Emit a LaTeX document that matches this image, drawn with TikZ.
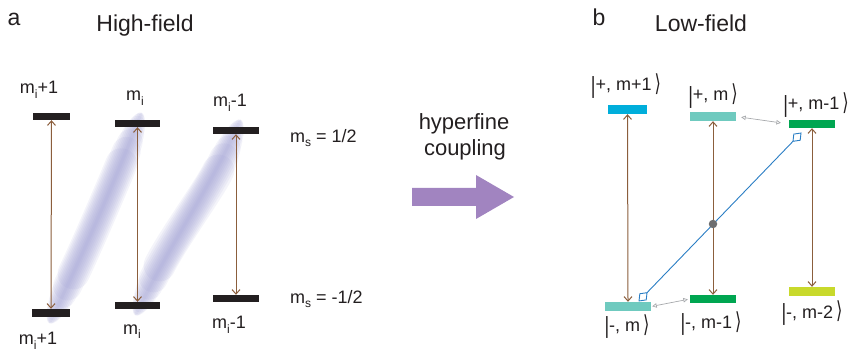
\documentclass[tikz,border=0pt]{standalone}
\usepackage{fontspec}
\setmainfont{Liberation Sans}
\newfontfamily\dejavu{DejaVu Sans}
\usetikzlibrary{arrows.meta}
\definecolor{barblack}{HTML}{231F20}
\definecolor{brownarr}{HTML}{8B5E3C}
\definecolor{bandcol}{HTML}{9A9AD0}
\definecolor{bigarrow}{HTML}{A184C0}
\definecolor{cyanbar}{HTML}{00AEDB}
\definecolor{tealbar}{HTML}{6FCABF}
\definecolor{greenbar}{HTML}{00A651}
\definecolor{limebar}{HTML}{C8D92B}
\definecolor{blueline}{HTML}{2A7EC4}
\definecolor{greyline}{HTML}{A7A9AC}
\definecolor{dotgrey}{HTML}{6D6E70}
\newcommand\myket[1]{\raisebox{-2.5pt}{\scalebox{1}[1.3]{|}}#1\,{\dejavu\raisebox{-1pt}{\scalebox{0.9}[1.3]{⟩}}}}
\newcommand\subi[1]{\raisebox{-5pt}{\fontsize{12}{12}\selectfont #1}}
\begin{document}
\begin{tikzpicture}[x=1pt,y=-1pt,
  lbl/.style={font=\fontsize{18}{21}\selectfont, inner sep=0, anchor=base, text=barblack},
  ttl/.style={font=\fontsize{23}{27}\selectfont, inner sep=0, anchor=base, text=barblack},
  lvl/.style={rectangle, inner sep=0, minimum height=7pt, minimum width=46pt},
  trans/.style={draw=brownarr, line width=1pt, {Straight Barb[length=4.5pt,width=8pt]}-{Straight Barb[length=4.5pt,width=8pt]}},
  gconn/.style={draw=greyline, line width=0.7pt, {Triangle[open,length=4.5pt,width=4.5pt]}-{Triangle[open,length=4.5pt,width=4.5pt]}},
  band/.style={draw=bandcol, line cap=round, draw opacity=0.11}
]
\useasboundingbox (0,0) rectangle (853,352);

% ---------- panel a ----------
\node[ttl] (la) at (14,26) {a};
\node[ttl] (hf) at (145,32) {High-field};

% blurred coupling bands
\foreach \w/\s in {32/54, 28.8/40, 25.6/30, 22.4/22, 19.2/15, 16/10.4, 12.8/6.5, 9.6/3.6, 6.4/1.6, 3.2/0.4}{
  \draw[band, line width=\w pt, shorten <=\s pt, shorten >=\s pt]
    (50,322) .. controls (85,250) and (115,180) .. (141,114);
  \draw[band, line width=\w pt, shorten <=\s pt, shorten >=\s pt]
    (136,314) .. controls (171,242) and (212,185) .. (240,121);
}

\node[lvl, fill=barblack, minimum width=37pt] (t1) at (51.5,116.5) {};
\node[lvl, fill=barblack, minimum width=45pt] (t2) at (137.5,123.5) {};
\node[lvl, fill=barblack] (t3) at (236,130.5) {};
\node[lvl, fill=barblack, minimum width=38pt, minimum height=8pt] (b1) at (51,313) {};
\node[lvl, fill=barblack, minimum width=45pt] (b2) at (137.5,305.5) {};
\node[lvl, fill=barblack] (b3) at (236,298.5) {};

\draw[trans] (t1.south) -- (b1.north);
\draw[trans] (t2.south) -- (b2.north);
\draw[trans] (t3.south) -- (b3.north);

\node[lbl] (lt1) at (39,94) {m\subi{i}+1};
\node[lbl] (lt2) at (135,101) {m\subi{i}};
\node[lbl] (lt3) at (230,107) {m\subi{i}-1};
\node[lbl] (lb1) at (38,344) {m\subi{i}+1};
\node[lbl] (lb2) at (132,334) {m\subi{i}};
\node[lbl] (lb3) at (229,328) {m\subi{i}-1};
\node[lbl, anchor=base west] (msu) at (290,143) {m\raisebox{-4pt}{\fontsize{12}{12}\selectfont s} = 1/2};
\node[lbl, anchor=base west] (msd) at (290,303) {m\raisebox{-4pt}{\fontsize{12}{12}\selectfont s} = -1/2};

% ---------- middle ----------
\node[ttl, font=\fontsize{22}{26}\selectfont] (hyp) at (464,130) {hyperfine};
\node[ttl, font=\fontsize{22}{26}\selectfont] (cpl) at (465,156) {coupling};
\fill[bigarrow] (412,188) -- (476,188) -- (476,175) -- (514,197) -- (476,219) -- (476,206) -- (412,206) -- cycle;

% ---------- panel b ----------
\node[ttl] (lbb) at (599,26) {b};
\node[ttl] (lf) at (701,32) {Low-field};

\node[lvl, fill=cyanbar, minimum width=39pt, minimum height=9pt] (T1) at (627.5,109.5) {};
\node[lvl, fill=tealbar, minimum height=9pt] (T2) at (713,116.5) {};
\node[lvl, fill=greenbar, minimum height=8pt] (T3) at (812,124) {};
\node[lvl, fill=tealbar, minimum height=9pt] (B1) at (628,306.5) {};
\node[lvl, fill=greenbar, minimum height=8pt] (B2) at (713,299) {};
\node[lvl, fill=limebar, minimum height=9pt] (B3) at (812,291.5) {};

\draw[trans] (T1.south) -- (B1.north);
\draw[trans] (T2.south) -- (B2.north);
\draw[trans] (T3.south) -- (B3.north);

\coordinate (dA) at (638.5,301.5);
\coordinate (dB) at (801.5,132.5);
\draw[blueline, line width=0.9pt, {Diamond[open,length=13pt,width=10pt]}-{Diamond[open,length=13pt,width=10pt]}] (dA) -- (dB);
\node[circle, fill=dotgrey, inner sep=0, minimum size=8.5pt] (dot) at (713,224) {};

\draw[gconn, shorten <=5pt, shorten >=8pt] (T2.east) -- (T3.west);
\draw[gconn, shorten <=1pt, shorten >=2pt] (B1.east) -- (B2.west);

\node[lbl] (kT1) at (626,91) {\myket{+, m+1}};
\node[lbl] (kT2) at (713,101) {\myket{+, m}};
\node[lbl] (kT3) at (816,110) {\myket{+, m-1}};
\node[lbl] (kB1) at (627,331) {\myket{-, m}};
\node[lbl] (kB2) at (711,328) {\myket{-, m-1}};
\node[lbl] (kB3) at (812,318) {\myket{-, m-2}};
\end{tikzpicture}
\end{document}
